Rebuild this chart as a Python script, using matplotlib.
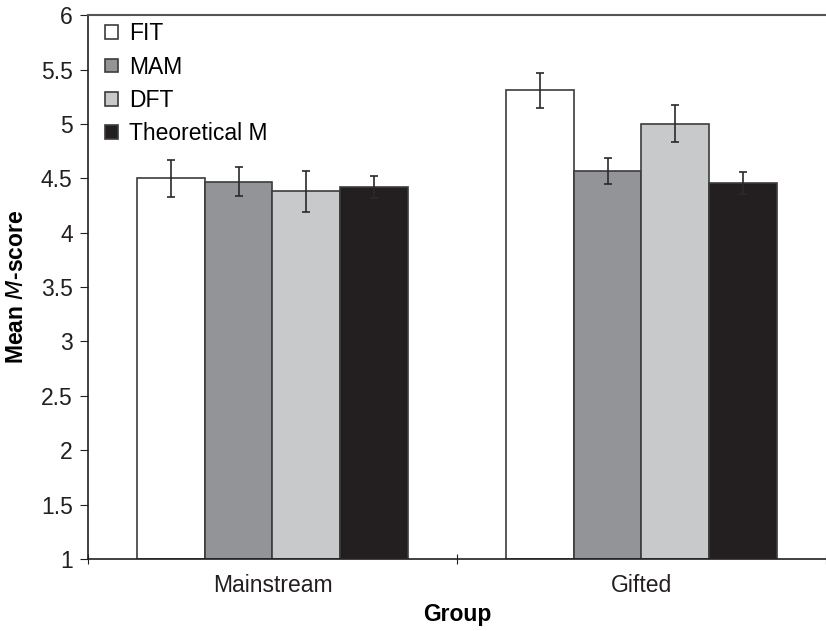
import numpy as np
import matplotlib.pyplot as plt

plt.rcParams['font.family'] = ['Liberation Sans', 'DejaVu Sans']

groups = ['Mainstream', 'Gifted']
series = ['FIT', 'MAM', 'DFT', 'Theoretical M']
means = [
    [4.50, 5.31],   # FIT
    [4.47, 4.57],   # MAM
    [4.38, 5.00],   # DFT
    [4.42, 4.46],   # Theoretical M
]
errs = [
    [0.17, 0.16],
    [0.13, 0.12],
    [0.19, 0.17],
    [0.10, 0.10],
]
colors = ['#ffffff', '#939497', '#c8c9cb', '#231f20']

fig = plt.figure(figsize=(8.26, 6.31), dpi=100)
ax = fig.add_axes([0.1065, 0.114, 0.8935, 0.862])

x = np.arange(len(groups))
w = 0.183
for i, name in enumerate(series):
    pos = x + (i - 1.5) * w
    ax.bar(pos, np.array(means[i]) - 1, w, bottom=1, color=colors[i],
           edgecolor='#3c3c3c', linewidth=1.2, label=name, zorder=2)
    ax.errorbar(pos, means[i], yerr=errs[i], fmt='none', ecolor='#2a2a2a',
                elinewidth=1.2, capsize=3, capthick=1.2, zorder=3)

fs = 16.5
ax.set_ylim(1, 6)
ax.set_yticks(np.arange(1, 6.01, 0.5))
ax.set_yticklabels(['1', '1.5', '2', '2.5', '3', '3.5', '4', '4.5', '5', '5.5', '6'])
ax.set_xlim(-0.5, 1.472)
ax.set_xticks([-0.5, 0.5, 1.5])
ax.set_xticklabels([])
ax.set_xticks(x, minor=True)
ax.set_xticklabels(groups, minor=True)
ax.tick_params(axis='x', which='minor', length=0, pad=11, labelsize=fs, labelcolor='#231f20')
ax.tick_params(axis='x', which='major', length=7, direction='inout', color='#231f20')
ax.tick_params(axis='y', length=6, direction='out', labelsize=fs, labelcolor='#231f20',
               color='#231f20', pad=5)

for s in ['left', 'bottom']:
    ax.spines[s].set_color('#231f20')
    ax.spines[s].set_linewidth(1.2)
ax.spines['top'].set_color('#555555')
ax.spines['top'].set_linewidth(1.5)
ax.spines['right'].set_visible(False)

ax.set_ylabel(r'Mean $\mathbf{\mathit{M}}$-score', fontsize=fs, fontweight='bold', labelpad=9)
ax.set_xlabel('Group', fontsize=fs, fontweight='bold', labelpad=4)

leg = ax.legend(loc='upper left', bbox_to_anchor=(0.005, 1.012), frameon=False,
                fontsize=fs, handlelength=0.55, handleheight=0.55,
                handletextpad=0.5, labelspacing=0.45, borderaxespad=0.2)

fig.savefig('out.png', dpi=100)
